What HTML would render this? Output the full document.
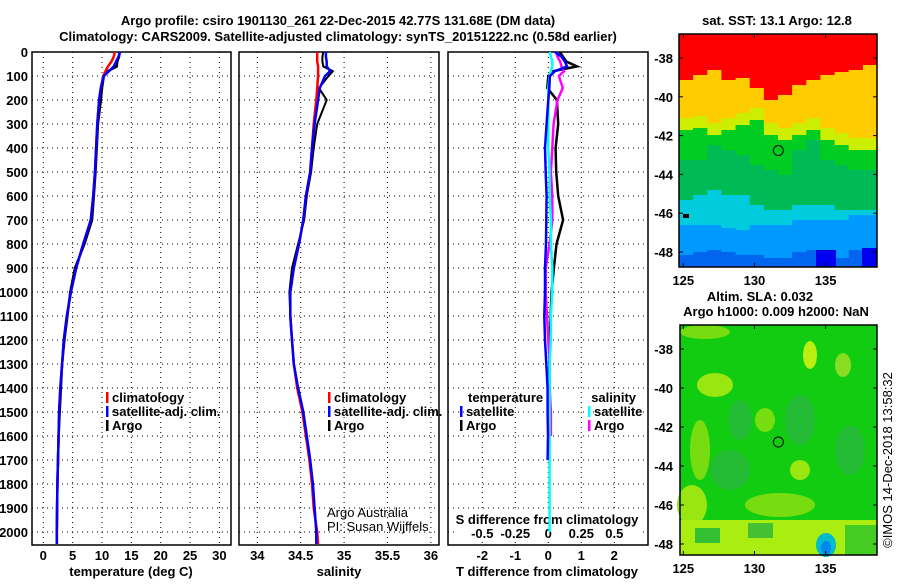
<!DOCTYPE html>
<html><head><meta charset="utf-8"><style>
body{margin:0;background:#fff;width:900px;height:580px;overflow:hidden}
svg text{font-family:"Liberation Sans",sans-serif;font-weight:bold;font-size:13px;fill:#000}
svg text.thin{font-weight:normal}
</style></head><body>
<svg id="c" width="900" height="580" xmlns="http://www.w3.org/2000/svg"></svg>
<script>
const depths=[0,20,40,60,80,100,150,200,300,400,500,600,700,800,900,1000,1100,1200,1300,1400,1500,1600,1700,1800,1900,2000,2050];
const tempClim=[12.2,12.0,11.6,11.0,10.6,10.2,9.8,9.5,9.2,9.0,8.8,8.5,8.1,6.8,5.6,4.7,4.0,3.5,3.2,2.9,2.7,2.6,2.5,2.4,2.35,2.3,2.3];
const tempSat=[13.1,12.8,12.4,12.0,11.2,10.3,9.8,9.5,9.2,9.0,8.8,8.5,8.1,6.8,5.6,4.7,4.0,3.5,3.2,2.9,2.7,2.6,2.5,2.4,2.35,2.3,2.3];
const tempArgo=[13.0,12.9,12.6,12.5,11.0,10.3,10.0,9.8,9.3,9.1,8.9,8.6,8.3,7.0,5.4,4.6,4.1,3.6,3.2,3.0,2.8,2.6,2.5,2.4,2.35,2.3,2.3];
const salClim=[34.69,34.69,34.69,34.70,34.70,34.70,34.69,34.68,34.65,34.63,34.61,34.56,34.53,34.48,34.42,34.38,34.38,34.40,34.42,34.46,34.52,34.56,34.60,34.63,34.65,34.69,34.70];
const salSat=[34.79,34.79,34.80,34.80,34.84,34.78,34.72,34.70,34.66,34.63,34.61,34.56,34.53,34.48,34.42,34.38,34.38,34.40,34.42,34.47,34.53,34.57,34.61,34.64,34.66,34.68,34.68];
const salArgo=[34.76,34.75,34.75,34.76,34.87,34.82,34.71,34.80,34.69,34.65,34.62,34.57,34.54,34.47,34.40,34.37,34.38,34.40,34.42,34.47,34.53,34.57,34.61,34.64,34.66,34.68,34.68];
const dTSat=[0.2,0.4,0.5,0.57,0.2,0.05,0.03,0.0,-0.05,-0.1,-0.08,-0.05,-0.06,-0.07,-0.1,-0.1,-0.12,-0.1,-0.06,-0.02,-0.02,-0.01,-0.02,null,null,null,null];
const dTArgo=[0.35,0.45,0.55,0.87,0.15,0.0,-0.03,0.26,0.3,0.22,0.24,0.3,0.45,0.25,0.17,0.1,0.07,0.04,0.03,0.02,0.01,0.01,0.0,null,null,null,null];
const dSSat=[0.01,0.02,0.03,0.03,0.02,0.01,0.0,0.0,0.0,0.0,0.01,0.01,0.02,0.02,0.03,0.03,0.02,0.02,0.01,0.01,0.01,0.01,0.01,0.01,0.01,0.01,null];
const dSArgo=[0.06,0.07,0.09,0.10,0.12,0.08,0.11,0.07,0.04,0.03,0.02,0.03,0.03,0.01,-0.02,-0.02,-0.01,0.0,0.01,0.01,0.02,0.02,null,null,null,null,null];
const depthTicks=[0,100,200,300,400,500,600,700,800,900,1000,1100,1200,1300,1400,1500,1600,1700,1800,1900,2000];
const tempTicks=[0,5,10,15,20,25,30];
const salTicks=[34,34.5,35,35.5,36];
const salTickLabels=["34","34.5","35","35.5","36"];
const dTTicks=[-2,-1,0,1,2];
const dSTicks=[-0.5,-0.25,0,0.25,0.5];
const dSTickLabels=["-0.5","-0.25","0","0.25","0.5"];
const lat1Ticks=[-38,-40,-42,-44,-46,-48];
const lonTicks=[125,130,135];
const argoLon=131.68, argoLat=-42.77;

const NS="http://www.w3.org/2000/svg";
const svg=document.getElementById('c');
function el(tag,attrs,parent){const e=document.createElementNS(NS,tag);for(const k in attrs)e.setAttribute(k,attrs[k]);(parent||svg).appendChild(e);return e;}
function txt(x,y,s,anchor,parent,extra){const t=el('text',Object.assign({x:x,y:y,'text-anchor':anchor||'start'},extra||{}),parent);t.textContent=s;return t;}
const yD=d=>52+d*0.24;
const PT={l:32,r:231},PS={l:239,r:439},PD={l:448,r:648};
const PB=545, PTOP=52;
const xT=t=>43.3+t*5.87;
const xS=s=>257.3+(s-34)*86.8;
const xDT=t=>548.3+t*33;
const xDS=s=>548.3+s*132;

function panel(p,name){
  const g=el('g',{});
  
  
  el('rect',{x:p.l,y:PTOP,width:p.r-p.l,height:PB-PTOP,fill:'#fff',stroke:'#000','stroke-width':1.5},g);
  depthTicks.forEach(d=>{el('line',{x1:p.l,x2:p.r,y1:yD(d),y2:yD(d),stroke:'#000','stroke-dasharray':'1,4','stroke-width':1},g);});
  return g;
}
function vgrid(g,xs){xs.forEach(x=>el('line',{x1:x,x2:x,y1:PTOP,y2:PB,stroke:'#000','stroke-dasharray':'1,4','stroke-width':1},g));}
function stepLine(g,vals,xf,color,name,w){
  let d='';let started=false;
  for(let i=0;i<depths.length;i++){
    if(vals[i]===null||vals[i]===undefined){continue;}
    const x=xf(vals[i]).toFixed(1),y=yD(depths[i]).toFixed(1);
    d+=(started?'L':'M')+x+','+y;started=true;
  }
  const p=el('path',{d:d,fill:'none',stroke:color,'stroke-width':w||2.5,'stroke-linejoin':'miter'},g);
  
  
}

txt(338,25,"Argo profile: csiro 1901130_261 22-Dec-2015 42.77S 131.68E (DM data)","middle",null,{'font-size':'14.5',});
txt(338,41,"Climatology: CARS2009. Satellite-adjusted climatology: synTS_20151222.nc (0.58d earlier)","middle",null,{'font-size':'14.5',});

const g1=panel(PT,'temperature-panel');
vgrid(g1,tempTicks.map(xT));
depthTicks.forEach(d=>{const t=txt(28,yD(d)+5,String(d),'end',g1);});
tempTicks.forEach(v=>{const t=txt(xT(v),560,String(v),'middle',g1);});
txt(131,576,"temperature (deg C)","middle",g1,{});
stepLine(g1,tempArgo,xT,'#000','temp-argo-line');
stepLine(g1,tempClim,xT,'#f00','temp-climatology-line');
stepLine(g1,tempSat,xT,'#00f','temp-satellite-line');
function legend(g,x,y,items){items.forEach((it,i)=>{
  const r=el('rect',{x:x,y:y+i*14-10,width:2.5,height:11,fill:it[1]},g);
  
  const t=txt(x+6,y+i*14,it[0],'start',g);});}
legend(g1,106,402,[["climatology","#f00"],["satellite-adj. clim.","#00f"],["Argo","#000"]]);

const g2=panel(PS,'salinity-panel');
vgrid(g2,salTicks.map(xS));
salTicks.forEach((v,i)=>{const t=txt(xS(v),560,salTickLabels[i],'middle',g2);});
txt(339,576,"salinity","middle",g2,{});
stepLine(g2,salArgo,xS,'#000','sal-argo-line',2);
stepLine(g2,salClim,xS,'#f00','sal-climatology-line');
stepLine(g2,salSat,xS,'#00f','sal-satellite-line');
legend(g2,328,402,[["climatology","#f00"],["satellite-adj. clim.","#00f"],["Argo","#000"]]);
txt(327,517,"Argo Australia","start",g2,{'class':'thin',});
txt(327,531,"PI: Susan Wijffels","start",g2,{'class':'thin',});

const g3=panel(PD,'difference-panel');
vgrid(g3,dTTicks.map(xDT));
dTTicks.forEach(v=>{const t=txt(xDT(v),560,String(v),'middle',g3);});
txt(547,576,"T difference from climatology","middle",g3,{});
el('rect',{x:455,y:511,width:188,height:30,fill:'#fff'},g3);
txt(547,524,"S difference from climatology","middle",g3,{});
dSTicks.forEach((v,i)=>{const t=txt(xDS(v),538,dSTickLabels[i],'middle',g3);});
stepLine(g3,dTArgo,xDT,'#000','tdiff-argo-line');
stepLine(g3,dSArgo,xDS,'#f0f','sdiff-argo-line');
stepLine(g3,dSSat,xDS,'#0ff','sdiff-satellite-line');
stepLine(g3,dTSat,xDT,'#00f','tdiff-satellite-line');
txt(468,402,"temperature","start",g3,{});
txt(636,402,"salinity","end",g3,{});
legend(g3,460,416,[["satellite","#00f"],["Argo","#000"]]);
legend(g3,588,416,[["satellite","#0ff"],["Argo","#f0f"]]);

const M1={l:679,r:877,t:34,b:267}, M2={l:680,r:877,t:325,b:555};
const lonX=lon=>683.3+(lon-125)*14.23;
const lat1Y=lat=>58+(-38-lat)*19.4;
const lat2Y=lat=>325+24+(-38-lat)*19.5;
const bRed=[80,75,70,80,78,88,100,95,85,80,75,72,70,65];
const bOrange=[130,128,135,130,125,120,135,140,135,130,140,145,150,150];
const bYellow=[160,160,145,150,155,165,170,175,150,140,160,165,170,170];
const bGreen=[200,195,190,195,195,205,210,210,205,205,205,210,210,210];
const bCyan=[225,225,225,228,230,225,225,225,220,220,220,220,215,215];
const bBlue=[255,252,250,252,255,255,258,258,252,250,255,258,250,248];
const gm1=el('g',{});


el('rect',{x:M1.l,y:M1.t,width:M1.r-M1.l,height:M1.b-M1.t,fill:'#0066ee'},gm1);
function band(arr,color){
  const cw=(M1.r-M1.l)/arr.length;let d='M'+M1.l+','+M1.t;
  arr.forEach((b,i)=>{d+='L'+(M1.l+i*cw).toFixed(1)+','+b+'L'+(M1.l+(i+1)*cw).toFixed(1)+','+b;});
  d+='L'+M1.r+','+M1.t+'Z';el('path',{d:d,fill:color},gm1);
}
band(bBlue,'#0099ff');band(bCyan,'#00ccdd');band(bGreen,'#00bb55');band(bYellow,'#00cc22');band(bOrange,'#ccee00');
band(bOrange.map(v=>v-12),'#ffcc00');band(bRed,'#ff0000');
el('rect',{x:816,y:250,width:20,height:17,fill:'#0000ee'},gm1);
el('rect',{x:862,y:248,width:15,height:19,fill:'#0000ee'},gm1);
el('rect',{x:683,y:214,width:6,height:4,fill:'#000'},gm1);
el('rect',{x:M1.l,y:M1.t,width:M1.r-M1.l,height:M1.b-M1.t,fill:'none',stroke:'#000','stroke-width':1.5},gm1);
lat1Ticks.forEach(l=>{const y=lat1Y(l);el('line',{x1:M1.l,x2:M1.l+4,y1:y,y2:y,stroke:'#000'},gm1);el('line',{x1:M1.r-4,x2:M1.r,y1:y,y2:y,stroke:'#000'},gm1);
  const t=txt(673,y+5,String(l),'end',gm1);});
lonTicks.forEach(l=>{const x=lonX(l);el('line',{x1:x,x2:x,y1:M1.b-4,y2:M1.b,stroke:'#000'},gm1);el('line',{x1:x,x2:x,y1:M1.t,y2:M1.t+4,stroke:'#000'},gm1);
  const t=txt(x,285,String(l),'middle',gm1);});
const c1=el('circle',{cx:lonX(argoLon),cy:lat1Y(argoLat),r:5,fill:'none',stroke:'#000'},gm1);

txt(777,25,"sat. SST: 13.1 Argo: 12.8","middle",null,{});
txt(760,301,"Altim. SLA: 0.032","middle",null,{});
txt(776,316,"Argo h1000: 0.009 h2000: NaN","middle",null,{});

const gm2=el('g',{});


el('rect',{x:M2.l,y:M2.t,width:M2.r-M2.l,height:M2.b-M2.t,fill:'#11cc11'},gm2);
const patches=[[715,385,18,12,'#99e611'],[810,355,7,14,'#bbee11'],[843,365,8,12,'#88dd22'],[705,332,25,7,'#77dd11'],[765,420,10,12,'#77dd11'],[700,450,10,30,'#77dd11'],[800,470,10,10,'#99e611'],[780,505,35,12,'#77dd11'],[740,420,12,20,'#22bb33'],[800,420,15,25,'#22bb33'],[730,470,20,20,'#22bb33'],[850,450,15,25,'#22bb33'],[692,505,15,20,'#99e611']];
patches.forEach(p=>el('ellipse',{cx:p[0],cy:p[1],rx:p[2],ry:p[3],fill:p[4]},gm2));
el('rect',{x:M2.l,y:520,width:M2.r-M2.l,height:35,fill:'#aaee11'},gm2);
el('rect',{x:695,y:528,width:25,height:15,fill:'#33c033'},gm2);
el('rect',{x:748,y:523,width:25,height:15,fill:'#44c033'},gm2);
el('rect',{x:845,y:525,width:32,height:30,fill:'#44cc22'},gm2);
el('ellipse',{cx:826,cy:545,rx:10,ry:12,fill:'#00bbcc'},gm2);
el('ellipse',{cx:826,cy:548,rx:5,ry:7,fill:'#0088ee'},gm2);
el('rect',{x:M2.l,y:M2.t,width:M2.r-M2.l,height:M2.b-M2.t,fill:'none',stroke:'#000','stroke-width':1.5},gm2);
lat1Ticks.forEach(l=>{const y=lat2Y(l);el('line',{x1:M2.l,x2:M2.l+4,y1:y,y2:y,stroke:'#000'},gm2);el('line',{x1:M2.r-4,x2:M2.r,y1:y,y2:y,stroke:'#000'},gm2);
  const t=txt(673,y+5,String(l),'end',gm2);});
lonTicks.forEach(l=>{const x=lonX(l);el('line',{x1:x,x2:x,y1:M2.b-4,y2:M2.b,stroke:'#000'},gm2);el('line',{x1:x,x2:x,y1:M2.t,y2:M2.t+4,stroke:'#000'},gm2);
  const t=txt(x,573,String(l),'middle',gm2);});
const c2=el('circle',{cx:lonX(argoLon),cy:lat2Y(argoLat),r:5,fill:'none',stroke:'#000'},gm2);

txt(0,0,"©IMOS 14-Dec-2018 13:58:32","middle",null,{'class':'thin',transform:'translate(892,460) rotate(-90)',});
</script>
</body></html>
